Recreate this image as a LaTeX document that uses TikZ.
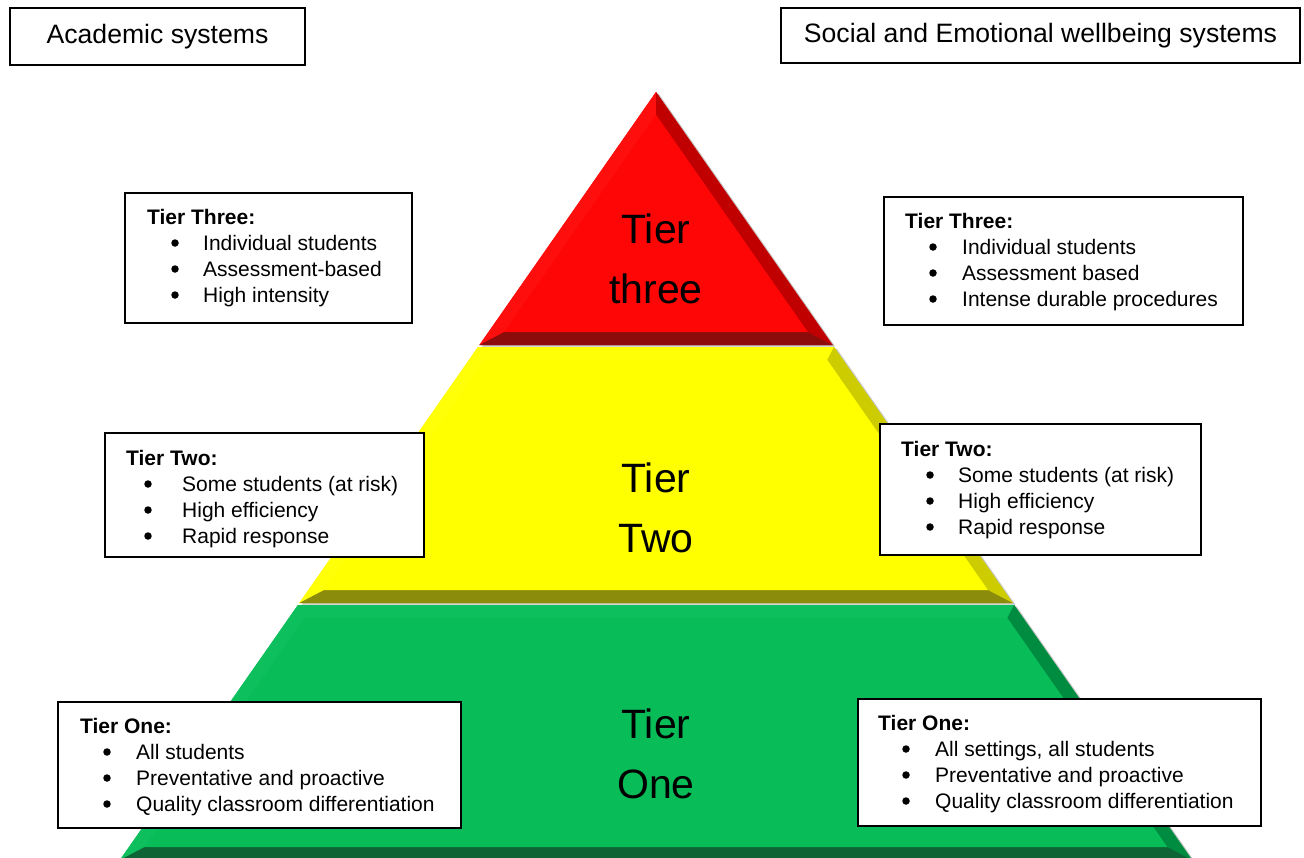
\documentclass[tikz,border=0pt]{standalone}
\usepackage{fontspec}
\setmainfont{Liberation Sans}

% tier colours: face, lit edge, shaded right edge, dark base band
\definecolor{redface}{RGB}{254,6,6}
\definecolor{redlit}{RGB}{255,14,14}
\definecolor{redside}{RGB}{192,0,0}
\definecolor{redbase}{RGB}{140,12,12}
\definecolor{yelface}{RGB}{255,255,0}
\definecolor{yellit}{RGB}{255,255,8}
\definecolor{yelside}{RGB}{204,204,0}
\definecolor{yelbase}{RGB}{140,140,12}
\definecolor{grnface}{RGB}{8,188,88}
\definecolor{grnlit}{RGB}{14,192,93}
\definecolor{grnside}{RGB}{0,140,64}
\definecolor{grnbase}{RGB}{14,100,52}
\definecolor{edgeshadow}{RGB}{192,192,192}

% text block of one info box: name, header x, bullet x, item x, header baseline, header, three items
\newcommand\infotext[9]{%
  \node[boxhead]   (#1h)  at (#2,#5)    {#6};
  \node[boxbullet] (#1b1) at (#3,#5+26-7) {};
  \node[boxitem]   (#1t1) at (#4,#5+26) {#7};
  \node[boxbullet] (#1b2) at (#3,#5+52-7) {};
  \node[boxitem]   (#1t2) at (#4,#5+52) {#8};
  \node[boxbullet] (#1b3) at (#3,#5+78-7) {};
  \node[boxitem]   (#1t3) at (#4,#5+78) {#9};
}

\begin{document}
\begin{tikzpicture}[x=1pt,y=-1pt,
  infobox/.style={draw=black,line width=1.6pt,fill=white,inner sep=0pt},
  titlebox/.style={infobox,font=\fontsize{26.6}{31}\selectfont},
  boxhead/.style={anchor=base west,inner sep=0pt,font=\fontsize{21}{25}\selectfont\bfseries},
  boxitem/.style={anchor=base west,inner sep=0pt,font=\fontsize{21}{25}\selectfont},
  boxbullet/.style={circle,fill=black,inner sep=0pt,minimum size=7.5pt},
  tierlabel/.style={anchor=base,inner sep=0pt,font=\fontsize{41}{50}\selectfont},
  shadowshift/.style={shift={(2.5,1.5)}}]

\useasboundingbox (0,0) rectangle (1304,857);
\clip (0,0) rectangle (1304,857);
\fill[white] (0,0) rectangle (1304,857);

% ---------- pyramid corners (outer and inner bevel outlines) ----------
\coordinate (rA)   at (656,92);
\coordinate (rBR)  at (832.6,345);
\coordinate (rBL)  at (479.4,345);
\coordinate (riA)  at (656,114.7);
\coordinate (riBR) at (807.7,332);
\coordinate (riBL) at (504.3,332);

\coordinate (yTL)  at (478,347);
\coordinate (yTR)  at (834,347);
\coordinate (yBR)  at (1012.7,603);
\coordinate (yBL)  at (299.3,603);
\coordinate (yiTL) at (484.8,360);
\coordinate (yiTR) at (827.2,360);
\coordinate (yiBR) at (987.8,590);
\coordinate (yiBL) at (324.2,590);

\coordinate (gTL)  at (297.9,605);
\coordinate (gTR)  at (1014.1,605);
\coordinate (gBR)  at (1192.1,860);
\coordinate (gBL)  at (119.9,860);
\coordinate (giTL) at (304.7,618);
\coordinate (giTR) at (1007.3,618);
\coordinate (giBR) at (1167.2,847);
\coordinate (giBL) at (144.8,847);

% soft edge shadows
\fill[edgeshadow] ([shadowshift]rA) -- ([shadowshift]rBR) -- ([shadowshift]rBL) -- cycle;
\fill[edgeshadow] ([shadowshift]yTL) -- ([shadowshift]yTR) -- ([shadowshift]yBR) -- ([shadowshift]yBL) -- cycle;
\fill[edgeshadow] ([shadowshift]gTL) -- ([shadowshift]gTR) -- ([shadowshift]gBR) -- ([shadowshift]gBL) -- cycle;

% tier three (triangle)
\fill[redface] (rA) -- (rBR) -- (rBL) -- cycle;
\fill[redlit]  (rA) -- (riA) -- (riBL) -- (rBL) -- cycle;
\fill[redside] (rA) -- (rBR) -- (riBR) -- (riA) -- cycle;
\fill[redbase] (rBL) -- (rBR) -- (riBR) -- (riBL) -- cycle;
\fill[redface] (riA) -- (riBR) -- (riBL) -- cycle;

% tier two (trapezoid)
\fill[yelface] (yTL) -- (yTR) -- (yBR) -- (yBL) -- cycle;
\fill[yellit]  (yTL) -- (yTR) -- (yiTR) -- (yiTL) -- cycle;
\fill[yellit]  (yTL) -- (yiTL) -- (yiBL) -- (yBL) -- cycle;
\fill[yelside] (yTR) -- (yBR) -- (yiBR) -- (yiTR) -- cycle;
\fill[yelbase] (yBL) -- (yBR) -- (yiBR) -- (yiBL) -- cycle;
\fill[yelface] (yiTL) -- (yiTR) -- (yiBR) -- (yiBL) -- cycle;

% tier one (trapezoid)
\fill[grnface] (gTL) -- (gTR) -- (gBR) -- (gBL) -- cycle;
\fill[grnlit]  (gTL) -- (gTR) -- (giTR) -- (giTL) -- cycle;
\fill[grnlit]  (gTL) -- (giTL) -- (giBL) -- (gBL) -- cycle;
\fill[grnside] (gTR) -- (gBR) -- (giBR) -- (giTR) -- cycle;
\fill[grnbase] (gBL) -- (gBR) -- (giBR) -- (giBL) -- cycle;
\fill[grnface] (giTL) -- (giTR) -- (giBR) -- (giBL) -- cycle;

% tier labels
\node[tierlabel] (tier3a) at (656,243) {Tier};
\node[tierlabel] (tier3b) at (656,303) {three};
\node[tierlabel] (tier2a) at (656,492) {Tier};
\node[tierlabel] (tier2b) at (656,552) {Two};
\node[tierlabel] (tier1a) at (656,738) {Tier};
\node[tierlabel] (tier1b) at (656,798) {One};

% ---------- column titles ----------
\node[titlebox,minimum width=295,minimum height=57] (acad) at (157.5,36.5) {Academic systems};
\node[titlebox,minimum width=519,minimum height=55] (sew) at (1040.5,35.5) {Social and Emotional wellbeing systems};

% ---------- info boxes ----------
\node[infobox,minimum width=287,minimum height=130] (L3box) at (268.5,258) {};
\node[infobox,minimum width=359,minimum height=128] (R3box) at (1063.5,261) {};
\node[infobox,minimum width=319,minimum height=124] (L2box) at (264.5,495) {};
\node[infobox,minimum width=321,minimum height=131] (R2box) at (1040.5,489.5) {};
\node[infobox,minimum width=403,minimum height=126] (L1box) at (259.5,765) {};
\node[infobox,minimum width=403,minimum height=127] (R1box) at (1059.5,762.5) {};

\infotext{L3}{147}{175}{203}{224}{Tier Three:}{Individual students}{Assessment-based}{High intensity}
\infotext{R3}{905}{933}{962}{228}{Tier Three:}{Individual students}{Assessment based}{Intense durable procedures}
\infotext{L2}{126}{148}{182}{465}{Tier Two:}{Some students (at risk)}{High efficiency}{Rapid response}
\infotext{R2}{901}{930}{958}{456}{Tier Two:}{Some students (at risk)}{High efficiency}{Rapid response}
\infotext{L1}{80}{107}{136}{733}{Tier One:}{All students}{Preventative and proactive}{Quality classroom differentiation}
\infotext{R1}{878}{906}{935}{730}{Tier One:}{All settings, all students}{Preventative and proactive}{Quality classroom differentiation}

\end{tikzpicture}
\end{document}
